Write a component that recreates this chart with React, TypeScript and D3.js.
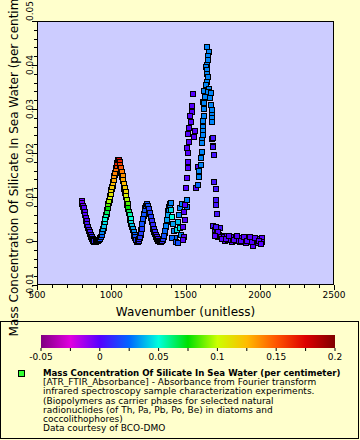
import * as d3 from 'd3'

// [wavenumber, absorbance value, colour value]
type Sample = [number, number, number]

const silicaBand: Sample[] = [
  [800, 0.009, -0.005], [805, 0.0086, -0.005], [810, 0.008, -0.005], [815, 0.0074, 0],
  [820, 0.0067, 0], [825, 0.006, 0], [830, 0.0053, 0], [835, 0.0046, 0],
  [840, 0.0039, 0.005], [845, 0.0032, 0.005], [850, 0.0026, 0.005], [856, 0.002, 0.005],
  [862, 0.0014, 0.005], [868, 0.0009, 0.01], [874, 0.0005, 0.01], [880, 0.0002, 0.01],
  [887, 0, 0.01], [894, -0.0001, 0.01], [901, 0, 0.015], [908, 0.0001, 0.015],
  [915, 0.0003, 0.02], [922, 0.0005, 0.02], [929, 0.0009, 0.02], [935, 0.0014, 0.025],
  [941, 0.002, 0.03], [946, 0.0027, 0.035], [951, 0.0035, 0.04], [956, 0.0043, 0.045],
  [961, 0.0051, 0.05], [966, 0.0059, 0.055], [971, 0.0067, 0.065], [976, 0.0075, 0.075],
  [981, 0.0083, 0.085], [986, 0.0091, 0.095], [991, 0.0099, 0.105], [996, 0.0107, 0.11],
  [1001, 0.0115, 0.115], [1006, 0.0123, 0.12], [1011, 0.0131, 0.125], [1016, 0.0139, 0.13],
  [1021, 0.0147, 0.135], [1026, 0.0155, 0.14], [1031, 0.0163, 0.145], [1036, 0.0171, 0.155],
  [1041, 0.0178, 0.165], [1046, 0.0184, 0.175], [1051, 0.0185, 0.175], [1056, 0.018, 0.165],
  [1061, 0.0173, 0.155], [1066, 0.0165, 0.15], [1071, 0.0157, 0.14], [1076, 0.0148, 0.135],
  [1081, 0.0139, 0.13], [1086, 0.013, 0.125], [1091, 0.0121, 0.12], [1096, 0.0112, 0.115],
  [1101, 0.0103, 0.105], [1106, 0.0094, 0.095], [1111, 0.0085, 0.085], [1116, 0.0076, 0.075],
  [1121, 0.0067, 0.065], [1126, 0.0058, 0.055], [1131, 0.005, 0.05], [1136, 0.0042, 0.045],
  [1141, 0.0034, 0.04], [1146, 0.0027, 0.035], [1151, 0.002, 0.03], [1157, 0.0014, 0.025],
  [1163, 0.0008, 0.02], [1170, 0.0003, 0.015], [1177, 0, 0.01], [1184, 0, 0.01],
  [1190, 0.0004, 0.01], [1195, 0.001, 0.015], [1200, 0.0018, 0.015], [1205, 0.0028, 0.015],
  [1210, 0.0039, 0.02], [1215, 0.005, 0.02], [1220, 0.0061, 0.02], [1226, 0.0071, 0.02],
  [1232, 0.0079, 0.02], [1238, 0.0085, 0.02], [1244, 0.0085, 0.02], [1250, 0.008, 0.02],
  [1256, 0.0072, 0.015], [1262, 0.0063, 0.015], [1268, 0.0054, 0.015], [1274, 0.0045, 0.01],
  [1280, 0.0036, 0.01], [1286, 0.0028, 0.01], [1292, 0.0021, 0.01], [1298, 0.0014, 0.005],
  [1305, 0.0008, 0.005], [1312, 0.0004, 0.005], [1320, 0.0001, 0.005], [1328, 0, 0.005],
  [1336, -0.0001, 0.01], [1344, 0.0001, 0.01], [1351, 0.0005, 0.015], [1357, 0.0012, 0.02],
  [1363, 0.0022, 0.025], [1369, 0.0034, 0.03], [1375, 0.0047, 0.035], [1381, 0.006, 0.035],
  [1387, 0.0071, 0.03], [1393, 0.008, 0.03], [1399, 0.0087, 0.03],
]

// a second, slightly shifted replicate spectrum
const silicaBandB: Sample[] = [
  [803, 0.0084, -0.005], [809, 0.0077, 0], [815, 0.0069, 0], [821, 0.0061, 0],
  [827, 0.0053, 0], [833, 0.0045, 0.005], [839, 0.0037, 0.005], [845, 0.0029, 0.005],
  [851, 0.0022, 0.005], [857, 0.0016, 0.01], [864, 0.001, 0.01], [871, 0.0005, 0.01],
  [878, 0.0001, 0.01], [885, -0.0002, 0.01], [892, -0.0003, 0.01], [899, -0.0002, 0.01],
  [906, -0.0001, 0.015], [913, 0.0001, 0.015], [920, 0.0003, 0.02], [927, 0.0006, 0.02],
  [933, 0.001, 0.02], [939, 0.0016, 0.025], [944, 0.0023, 0.03], [949, 0.003, 0.035],
  [954, 0.0038, 0.04], [959, 0.0046, 0.045], [964, 0.0054, 0.05], [969, 0.0062, 0.06],
  [974, 0.007, 0.07], [979, 0.0078, 0.08], [984, 0.0086, 0.09], [989, 0.0094, 0.1],
  [994, 0.0102, 0.105], [999, 0.011, 0.11], [1004, 0.0118, 0.12], [1009, 0.0126, 0.125],
  [1014, 0.0134, 0.13], [1019, 0.0142, 0.135], [1024, 0.015, 0.14], [1029, 0.0158, 0.145],
  [1034, 0.0166, 0.15], [1039, 0.0174, 0.16], [1044, 0.018, 0.17], [1049, 0.0182, 0.175],
  [1054, 0.0178, 0.17], [1059, 0.0171, 0.16], [1064, 0.0163, 0.15], [1069, 0.0154, 0.145],
  [1074, 0.0145, 0.135], [1079, 0.0136, 0.13], [1084, 0.0127, 0.125], [1089, 0.0118, 0.12],
  [1094, 0.0109, 0.11], [1099, 0.01, 0.1], [1104, 0.0091, 0.09], [1109, 0.0082, 0.08],
  [1114, 0.0073, 0.07], [1119, 0.0064, 0.06], [1124, 0.0055, 0.055], [1129, 0.0047, 0.05],
  [1134, 0.0039, 0.045], [1139, 0.0031, 0.04], [1144, 0.0024, 0.035], [1150, 0.0017, 0.03],
  [1156, 0.0011, 0.025], [1162, 0.0006, 0.02], [1168, 0.0002, 0.015], [1175, -0.0002, 0.01],
  [1182, -0.0003, 0.01], [1188, 0, 0.01], [1193, 0.0006, 0.01], [1198, 0.0014, 0.015],
  [1203, 0.0024, 0.015], [1208, 0.0035, 0.02], [1213, 0.0046, 0.02], [1218, 0.0057, 0.02],
  [1224, 0.0067, 0.025], [1230, 0.0075, 0.025], [1236, 0.008, 0.025], [1242, 0.0081, 0.025],
  [1248, 0.0077, 0.02], [1254, 0.007, 0.02], [1260, 0.0062, 0.02], [1266, 0.0053, 0.015],
  [1272, 0.0044, 0.015], [1278, 0.0036, 0.01], [1284, 0.0028, 0.01], [1290, 0.0021, 0.01],
  [1296, 0.0015, 0.01], [1303, 0.0009, 0.005], [1310, 0.0004, 0.005], [1318, 0, 0.005],
  [1326, -0.0002, 0.005], [1334, -0.0003, 0.01], [1342, -0.0001, 0.01], [1349, 0.0003, 0.015],
  [1355, 0.001, 0.02], [1361, 0.0019, 0.025], [1367, 0.0031, 0.03], [1373, 0.0044, 0.04],
  [1379, 0.0057, 0.045], [1385, 0.0068, 0.04], [1391, 0.0077, 0.035], [1397, 0.0084, 0.03],
]

const shoulderCluster: Sample[] = [
  [1402, 0.007, 0.045], [1409, 0.0055, 0.05], [1416, 0.0039, 0.035], [1423, 0.0023, 0.03],
  [1429, 0.0007, 0.025], [1409, 0.0007, 0.025], [1436, -0.0002, 0.02], [1441, 0.0025, 0.045],
  [1448, 0.0044, 0.04], [1456, 0.0059, 0.03], [1463, 0.0074, 0.03], [1463, 0.0029, 0.045],
  [1470, 0.0014, 0.03], [1450, -0.0005, 0.02], [1476, 0.0084, 0.03], [1508, 0.0093, 0.03],
  [1508, 0.0077, 0.025],
]

const violetColumn: Sample[] = [
  [1548, 0.0333, 0], [1542, 0.0307, 0], [1546, 0.0294, 0], [1530, 0.0283, 0],
  [1537, 0.0271, 0], [1524, 0.0256, 0], [1564, 0.0251, 0], [1519, 0.0243, 0],
  [1559, 0.0237, 0], [1524, 0.0226, 0], [1510, 0.0211, 0], [1519, 0.0199, 0],
  [1519, 0.018, 0], [1515, 0.0165, 0], [1582, 0.0169, 0], [1508, 0.0143, 0],
  [1501, 0.012, 0], [1569, 0.012, 0], [1497, 0.0082, 0], [1492, 0.0067, 0],
  [1497, 0.0048, 0], [1485, 0.0031, 0], [1490, 0.001, 0], [1481, 0.0002, 0],
]

const waterColumn: Sample[] = [
  [1643, 0.0442, 0.03], [1660, 0.043, 0.03], [1650, 0.042, 0.03], [1654, 0.0411, 0.03],
  [1643, 0.04, 0.03], [1638, 0.0395, 0.03], [1643, 0.0389, 0.03], [1646, 0.038, 0.03],
  [1654, 0.0373, 0.03], [1643, 0.0362, 0.03], [1636, 0.0355, 0.03], [1660, 0.0345, 0.03],
  [1627, 0.0342, 0.03], [1654, 0.0339, 0.03], [1670, 0.0336, 0.03], [1631, 0.0328, 0.03],
  [1665, 0.0324, 0.03], [1620, 0.0317, 0.03], [1627, 0.0314, 0.03], [1672, 0.031, 0.03],
  [1625, 0.03, 0.03], [1676, 0.0298, 0.03], [1676, 0.0286, 0.03], [1622, 0.0285, 0.03],
  [1676, 0.0279, 0.03], [1620, 0.0273, 0.03], [1680, 0.0271, 0.03], [1620, 0.026, 0.03],
  [1615, 0.025, 0.03], [1620, 0.0241, 0.03], [1680, 0.0231, 0.03], [1612, 0.023, 0.03],
  [1609, 0.0222, 0.03], [1687, 0.0216, 0.03], [1609, 0.0203, 0.03], [1694, 0.0195, 0.03],
  [1604, 0.0188, 0.03], [1602, 0.0173, 0.03], [1591, 0.0158, 0.03], [1593, 0.0146, 0.03],
  [1586, 0.0127, 0.025],
]

const bendColumn: Sample[] = [
  [1687, 0.0233, 0.005], [1683, 0.0214, 0.005], [1692, 0.0195, 0.005], [1694, 0.0135, 0.005],
  [1705, 0.0118, 0.005], [1703, 0.0093, 0.005], [1705, 0.0082, 0.005], [1710, 0.0061, 0.005],
  [1732, 0.0029, 0.005], [1721, 0.001, 0.005],
]

const baselineTail: Sample[] = [
  [1685, 0.0034, 0.005], [1699, 0.0025, 0.005], [1712, 0.0018, 0], [1726, 0.0014, 0],
  [1739, 0.0011, 0], [1759, 0.0009, 0], [1780, 0.0011, 0], [1800, 0.0007, 0],
  [1820, 0.0009, 0], [1840, 0.0007, 0], [1860, 0.0005, 0], [1881, 0.0007, 0],
  [1901, 0.0005, 0], [1921, 0.0002, 0], [1941, 0.0005, 0], [1961, 0, 0],
  [1982, 0.0002, 0], [2002, 0.0005, 0], [2015, 0.0007, 0], [1955, -0.0011, 0],
  [1908, -0.0005, 0], [1867, -0.0002, 0], [1813, -0.0002, 0], [1766, 0, 0],
  [1719, 0.002, 0], [1699, 0.0011, 0], [1786, 0.0002, 0], [1840, 0, 0],
  [1988, -0.0005, 0], [2015, -0.0002, 0], [1705, 0.0031, 0.005], [1746, 0.0004, 0],
  [1773, 0.0005, 0], [1793, 0.0012, 0], [1827, 0.0003, 0], [1850, 0.0011, 0],
  [1874, 0.0001, 0], [1894, 0.0009, 0], [1914, -0.0001, 0], [1931, 0.0008, 0],
  [1948, -0.0003, 0], [1970, 0.0007, 0], [1995, 0.0001, 0], [2008, -0.0006, 0],
]

const allSamples = [silicaBandB, silicaBand, shoulderCluster, violetColumn, waterColumn, bendColumn, baselineTail]

const xTicks = [500, 1000, 1500, 2000, 2500]
const yTicks = [-0.01, 0, 0.01, 0.02, 0.03, 0.04, 0.05]
const colorTicks = [-0.05, 0, 0.05, 0.1, 0.15, 0.2]
const paletteStops = [-0.05, -0.025, 0, 0.025, 0.05, 0.075, 0.1, 0.125, 0.15, 0.175, 0.2]
const paletteColors = [
  '#800080', '#e000e0', '#5500ff', '#0066ff', '#00ffdd', '#00e000',
  '#ccff00', '#ffbb00', '#ff5500', '#dd0000', '#800000',
]

const legendTitle = 'Mass Concentration Of Silicate In Sea Water (per centimeter)'
const legendLines = [
  '[ATR_FTIR_Absorbance] - Absorbance from Fourier transform',
  'infrared spectroscopy sample characterization experiments.',
  '(Biopolymers as carrier phases for selected natural',
  'radionuclides (of Th, Pa, Pb, Po, Be) in diatoms and',
  'coccolithophores)',
  'Data courtesy of BCO-DMO',
]

const plot = { left: 37, right: 334, top: 21, bottom: 285 }
const font = 'DejaVu Sans, sans-serif'

export default function App() {
  const x = d3.scaleLinear().domain([500, 2500]).range([plot.left, plot.right])
  const y = d3.scaleLinear().domain([-0.01, 0.05]).range([plot.bottom, plot.top])
  const color = d3.scaleLinear<string>().domain(paletteStops).range(paletteColors).clamp(true)
  const cb = d3.scaleLinear().domain([-0.05, 0.2]).range([41, 335])

  const xMinor = x.ticks(20)
  const yMinor = y.ticks(30)
  const cbMinor = d3.range(0, 11).map((i) => -0.05 + i * 0.025)

  return (
    <svg width={360} height={440} style={{ position: 'absolute', left: 0, top: 0 }} fontFamily={font}>
      <defs>
        <linearGradient id="palette" x1="0" x2="1" y1="0" y2="0">
          {paletteStops.map((s, i) => (
            <stop key={s} offset={(s + 0.05) / 0.25} stopColor={paletteColors[i]} />
          ))}
        </linearGradient>
        <clipPath id="plotClip">
          <rect x={plot.left} y={plot.top} width={plot.right - plot.left} height={plot.bottom - plot.top} />
        </clipPath>
      </defs>
      <rect width={360} height={440} fill="#ffffcc" />

      {/* legend box */}
      <rect x={0.5} y={321.5} width={358} height={117} fill="#ffffcc" stroke="#000" />
      <rect x={cb.range()[0]} y={335} width={cb.range()[1] - cb.range()[0]} height={13} fill="url(#palette)" />
      {cbMinor.map((t) => (
        <line key={t} x1={cb(t)} x2={cb(t)} y1={348} y2={351} stroke="#000" />
      ))}
      {colorTicks.map((t) => (
        <text key={t} x={cb(t)} y={360} fontSize={9} textAnchor="middle">
          {String(Math.round(t * 1000) / 1000)}
        </text>
      ))}
      <rect x={18.5} y={370.5} width={6} height={6} fill="#33ff33" stroke="#000" />
      <text x={43} y={376} fontSize={8.6} fontWeight="bold">{legendTitle}</text>
      {legendLines.map((line, i) => (
        <text key={i} x={43} y={385.2 + i * 9.2} fontSize={9}>{line}</text>
      ))}

      {/* plot area */}
      <rect x={plot.left} y={plot.top} width={plot.right - plot.left} height={plot.bottom - plot.top} fill="#ccccff" />
      <g clipPath="url(#plotClip)">
        {allSamples.map((series, si) =>
          series.map(([w, v, c], i) => (
            <rect
              key={`${si}-${i}`}
              x={Math.round(x(w)) - 2.5}
              y={Math.round(y(v)) - 2.5}
              width={5}
              height={5}
              fill={color(c)}
              stroke="#000"
              strokeWidth={1}
            />
          )),
        )}
      </g>
      <rect x={plot.left + 0.5} y={plot.top + 0.5} width={plot.right - plot.left - 1} height={plot.bottom - plot.top - 1} fill="none" stroke="#000" />

      {/* x axis */}
      {xMinor.map((t) => (
        <line key={t} x1={Math.round(x(t)) + 0.5} x2={Math.round(x(t)) + 0.5} y1={plot.bottom} y2={plot.bottom + (xTicks.includes(t) ? 5 : 3)} stroke="#000" />
      ))}
      {xTicks.map((t) => (
        <text key={t} x={x(t)} y={298} fontSize={9} textAnchor="middle">{t}</text>
      ))}
      <text x={(plot.left + plot.right) / 2} y={316} fontSize={12} textAnchor="middle">Wavenumber (unitless)</text>

      {/* y axis */}
      {yMinor.map((t) => {
        const major = yTicks.some((m) => Math.abs(m - t) < 1e-9)
        return (
          <line key={t} x1={plot.left - (major ? 5 : 3)} x2={plot.left} y1={Math.round(y(t)) + 0.5} y2={Math.round(y(t)) + 0.5} stroke="#000" />
        )
      })}
      {yTicks.map((t, i) => (
        <text
          key={t}
          transform={`translate(33, ${y(t)}) rotate(-90)`}
          fontSize={9}
          textAnchor={i === yTicks.length - 1 ? 'start' : 'middle'}
        >
          {String(Math.round(t * 1000) / 1000)}
        </text>
      ))}
      <text transform={`translate(18, ${(plot.top + plot.bottom) / 2}) rotate(-90)`} fontSize={12} textAnchor="middle">
        Mass Concentration Of Silicate In Sea Water (per centimeter)
      </text>
    </svg>
  )
}
